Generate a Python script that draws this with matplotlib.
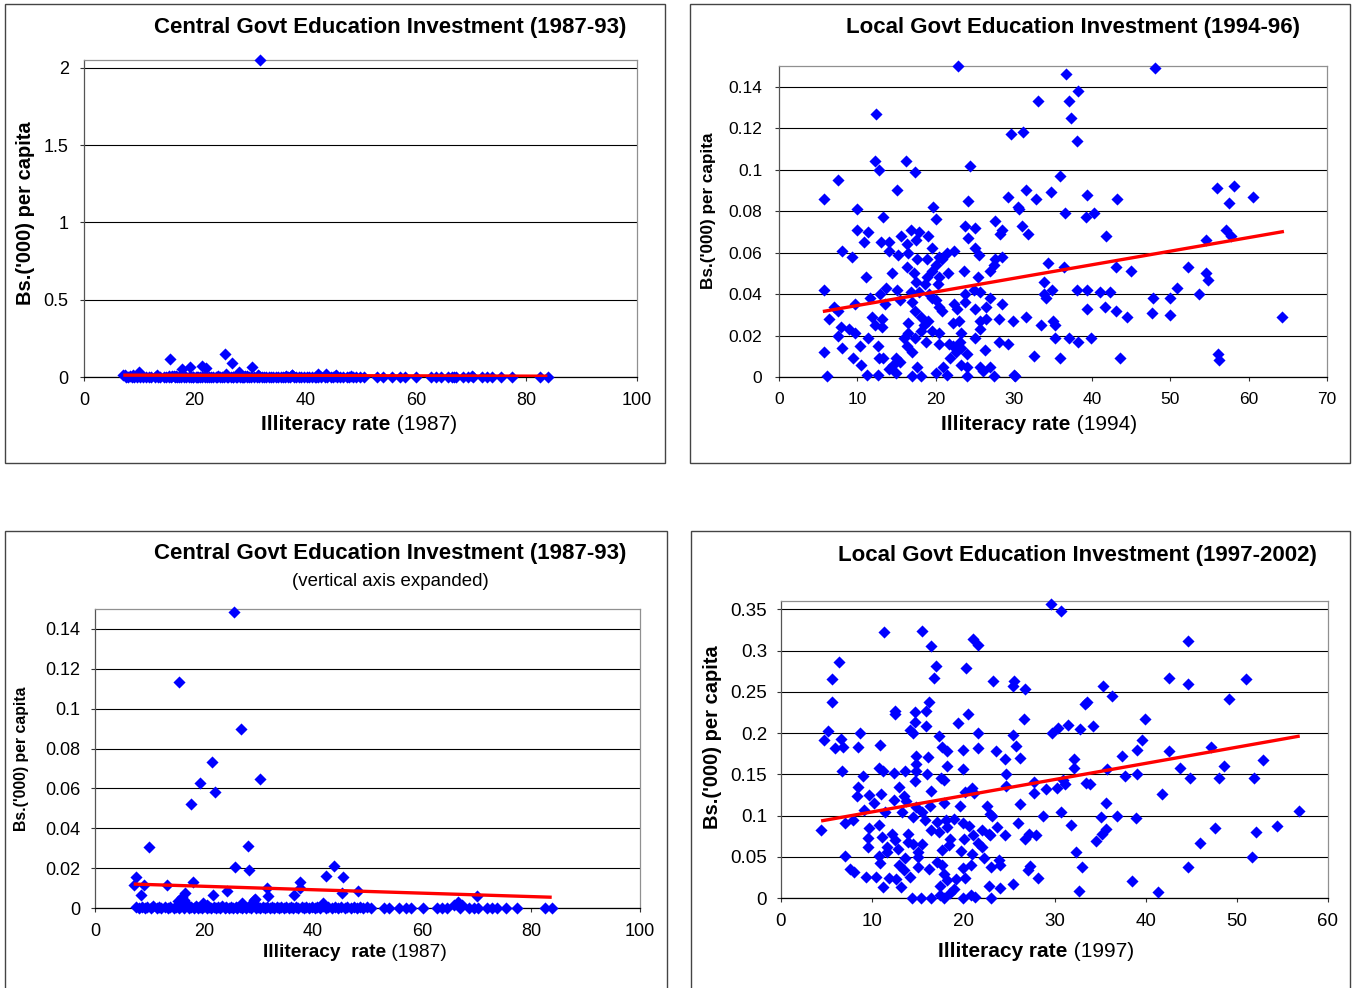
import matplotlib
matplotlib.use("Agg")
import matplotlib.pyplot as plt
from matplotlib.patches import Rectangle
from matplotlib.ticker import FuncFormatter
import numpy as np

plt.rcParams["font.family"] = ["Liberation Sans", "DejaVu Sans"]

W, H = 1357, 988

# ----------------------------
# Data
# ----------------------------

# central govt investment 1987-93 vs illiteracy 1987 (same points in both left panels)
central_1987 = [
    (31.9, 2.047), (25.5, 0.1485), (15.5, 0.1134), (26.7, 0.0900), (21.4, 0.0732),
    (19.2, 0.0625), (22.0, 0.0584), (17.7, 0.0523), (30.3, 0.0647), (9.9, 0.0306),
    (28.0, 0.0311), (25.7, 0.0206), (28.2, 0.0192), (43.8, 0.0212), (42.4, 0.0162),
    (45.5, 0.0155), (7.5, 0.0155), (7.1, 0.0115), (8.9, 0.0115), (8.4, 0.0067),
    (13.2, 0.0114), (17.9, 0.0130), (16.6, 0.0075), (16.0, 0.0053), (15.3, 0.0033),
    (21.7, 0.0065), (24.2, 0.0084), (31.5, 0.0100), (31.7, 0.0058), (29.2, 0.0042),
    (36.5, 0.0065), (37.7, 0.0132), (37.7, 0.0099), (45.3, 0.0075), (48.2, 0.0085),
    (70.1, 0.0062), (66.6, 0.0030), (41.8, 0.0025), (26.9, 0.0025), (19.8, 0.0025),
    (29.4, 0.0047), (16.3, 0.0040), (20.5, 0.0015), (28.7, 0.0020), (65.8, 0.0015),
    (67.3, 0.0015),
    (7.6, 0.0004), (8.0, 0.0), (8.7, 0.0006), (9.1, 0.0), (9.6, 0.0003),
    (10.2, 0.0), (10.6, 0.0008), (11.3, 0.0), (11.8, 0.0004), (12.2, 0.0),
    (12.9, 0.0006), (13.4, 0.0), (13.8, 0.0003), (14.5, 0.0), (14.9, 0.0007),
    (15.4, 0.0), (15.8, 0.0012), (16.4, 0.0), (16.8, 0.0020), (17.2, 0.0),
    (17.6, 0.0005), (18.1, 0.0), (18.5, 0.0009), (18.9, 0.0), (19.3, 0.0004),
    (19.7, 0.0), (20.2, 0.0010), (20.6, 0.0), (21.0, 0.0003), (21.3, 0.0),
    (21.8, 0.0006), (22.2, 0.0), (22.6, 0.0004), (23.0, 0.0), (23.3, 0.0008),
    (23.8, 0.0), (24.1, 0.0003), (24.6, 0.0), (25.0, 0.0006), (25.4, 0.0),
    (25.8, 0.0004), (26.1, 0.0), (26.6, 0.0007), (27.0, 0.0), (27.4, 0.0012),
    (27.7, 0.0), (28.2, 0.0005), (28.6, 0.0), (29.0, 0.0015), (29.5, 0.0),
    (29.9, 0.0004), (30.2, 0.0), (30.8, 0.0006), (31.2, 0.0), (31.6, 0.0003),
    (32.1, 0.0), (32.5, 0.0005), (32.9, 0.0), (33.4, 0.0004), (33.8, 0.0),
    (34.1, 0.0006), (34.7, 0.0), (35.0, 0.0003), (35.6, 0.0), (35.9, 0.0005),
    (36.4, 0.0), (36.9, 0.0004), (37.3, 0.0), (37.9, 0.0006), (38.3, 0.0),
    (38.8, 0.0003), (39.2, 0.0), (39.8, 0.0005), (40.3, 0.0), (40.7, 0.0004),
    (41.2, 0.0), (41.9, 0.0009), (42.3, 0.0), (42.8, 0.0004), (43.5, 0.0),
    (44.0, 0.0005), (44.6, 0.0), (45.1, 0.0004), (45.8, 0.0), (46.3, 0.0006),
    (46.9, 0.0), (47.5, 0.0003), (48.0, 0.0), (48.7, 0.0005), (49.2, 0.0),
    (49.9, 0.0004), (50.6, 0.0), (53.0, 0.0), (54.0, 0.0), (55.7, 0.0),
    (57.1, 0.0), (58.0, 0.0), (60.1, 0.0), (62.8, 0.0), (63.6, 0.0),
    (64.5, 0.0), (66.9, 0.0), (68.6, 0.0), (69.5, 0.0), (70.3, 0.0),
    (72.0, 0.0), (72.8, 0.0), (73.7, 0.0), (75.4, 0.0), (77.4, 0.0),
    (82.5, 0.0), (83.9, 0.0),
]
central_trend_x = [7.1, 83.8]
central_trend_y = [0.0120, 0.0054]

# local govt investment 1994-96 vs illiteracy 1994
local_1994 = [
    (22.9, 0.150), (48.0, 0.149), (36.6, 0.146), (38.2, 0.138), (33.1, 0.133),
    (37.1, 0.133), (37.3, 0.125), (12.4, 0.127), (29.6, 0.117), (31.2, 0.118),
    (38.1, 0.114), (12.2, 0.104), (16.2, 0.104), (12.8, 0.100), (17.4, 0.099),
    (24.4, 0.102), (7.5, 0.095), (35.9, 0.097), (5.7, 0.086), (15.1, 0.090),
    (29.3, 0.087), (31.6, 0.090), (32.8, 0.086), (34.7, 0.089), (39.3, 0.088),
    (43.2, 0.086), (55.9, 0.091), (58.1, 0.092), (60.5, 0.087), (57.5, 0.084),
    (24.1, 0.085), (9.9, 0.081), (19.7, 0.082), (30.5, 0.082), (30.6, 0.081),
    (36.5, 0.079), (40.2, 0.079), (39.2, 0.077), (13.3, 0.077), (20.0, 0.076),
    (9.9, 0.071), (11.4, 0.070), (23.8, 0.073), (25.0, 0.072), (27.6, 0.075),
    (28.5, 0.071), (28.2, 0.069), (31.1, 0.073), (31.8, 0.069), (41.8, 0.068),
    (57.1, 0.071), (57.7, 0.068), (54.5, 0.066), (15.6, 0.068), (16.8, 0.071),
    (17.9, 0.070), (19.0, 0.068), (17.5, 0.066), (24.1, 0.067), (10.9, 0.065),
    (13.0, 0.065), (14.1, 0.065), (16.3, 0.064), (8.0, 0.061), (9.3, 0.058),
    (14.0, 0.061), (15.2, 0.059), (16.5, 0.060), (19.5, 0.062), (20.4, 0.058),
    (21.5, 0.060), (22.4, 0.061), (25.0, 0.062), (25.6, 0.059), (28.5, 0.058),
    (27.6, 0.057), (17.6, 0.057), (18.9, 0.057), (16.3, 0.053), (20.1, 0.054),
    (20.8, 0.057), (27.4, 0.054), (27.0, 0.051), (34.3, 0.055), (36.4, 0.053),
    (43.0, 0.053), (52.2, 0.053), (45.0, 0.051), (14.4, 0.050), (17.3, 0.050),
    (19.5, 0.051), (21.6, 0.050), (23.6, 0.051), (11.1, 0.048), (18.9, 0.048),
    (20.5, 0.048), (25.4, 0.048), (17.5, 0.046), (18.7, 0.045), (20.3, 0.045),
    (33.9, 0.046), (54.5, 0.050), (54.8, 0.047), (5.8, 0.042), (13.7, 0.043),
    (15.1, 0.042), (16.9, 0.041), (17.9, 0.041), (19.2, 0.040), (24.9, 0.042),
    (25.7, 0.041), (34.9, 0.042), (38.1, 0.042), (39.3, 0.042), (41.0, 0.041),
    (42.3, 0.041), (50.8, 0.043), (11.6, 0.038), (12.9, 0.040), (15.4, 0.037),
    (19.5, 0.038), (20.1, 0.037), (23.8, 0.040), (27.0, 0.038), (33.9, 0.040),
    (34.1, 0.038), (53.6, 0.040), (50.0, 0.038), (47.8, 0.038), (7.0, 0.034),
    (9.7, 0.035), (13.6, 0.035), (17.0, 0.036), (20.5, 0.034), (22.4, 0.035),
    (23.7, 0.036), (7.6, 0.032), (17.4, 0.032), (20.8, 0.032), (22.8, 0.033),
    (25.1, 0.033), (26.5, 0.034), (28.5, 0.035), (39.4, 0.033), (41.6, 0.034),
    (43.0, 0.032), (47.7, 0.031), (49.9, 0.030), (64.3, 0.029), (44.5, 0.029),
    (6.4, 0.028), (11.9, 0.029), (13.2, 0.028), (18.1, 0.029), (19.0, 0.027),
    (26.5, 0.028), (28.1, 0.028), (29.9, 0.027), (31.5, 0.029), (12.3, 0.025),
    (13.1, 0.024), (16.5, 0.026), (18.5, 0.025), (22.2, 0.026), (23.0, 0.027),
    (25.7, 0.027), (33.5, 0.025), (35.0, 0.027), (35.2, 0.025), (7.9, 0.024),
    (9.0, 0.023), (9.7, 0.021), (7.6, 0.020), (16.5, 0.021), (18.2, 0.022),
    (19.5, 0.022), (20.4, 0.021), (23.2, 0.021), (25.7, 0.023), (11.4, 0.019),
    (16.0, 0.019), (17.4, 0.019), (18.8, 0.017), (25.1, 0.019), (35.2, 0.019),
    (37.1, 0.019), (39.9, 0.019), (23.1, 0.017), (20.5, 0.016), (28.1, 0.017),
    (29.2, 0.016), (38.2, 0.017), (10.3, 0.015), (12.6, 0.015), (16.3, 0.015),
    (22.2, 0.015), (23.2, 0.014), (8.1, 0.014), (17.0, 0.012), (22.6, 0.012),
    (24.0, 0.011), (26.3, 0.013), (5.8, 0.012), (9.5, 0.009), (12.8, 0.009),
    (13.3, 0.009), (14.9, 0.009), (32.6, 0.010), (35.9, 0.009), (43.6, 0.009),
    (56.1, 0.011), (56.2, 0.008), (10.5, 0.006), (14.5, 0.006), (15.4, 0.007),
    (17.6, 0.005), (21.8, 0.009), (21.0, 0.005), (23.3, 0.006), (24.0, 0.005),
    (25.7, 0.005), (26.9, 0.005), (14.0, 0.004), (14.9, 0.002), (11.2, 0.001),
    (12.7, 0.001), (6.1, 0.0005), (17.0, 0.0005), (18.1, 0.0005), (20.1, 0.002),
    (21.4, 0.001), (24.0, 0.0005), (26.0, 0.003), (27.4, 0.0005), (30.0, 0.001),
    (30.2, 0.0005), (21.7, 0.016),
]
local_1994_trend_x = [5.6, 64.5]
local_1994_trend_y = [0.0316, 0.0702]

# local govt investment 1997-2002 vs illiteracy 1997
local_1997 = [
    (29.6, 0.356), (30.7, 0.348), (11.3, 0.322), (15.5, 0.324), (21.1, 0.314),
    (21.6, 0.307), (44.6, 0.312), (16.4, 0.306), (6.4, 0.286), (17.0, 0.281),
    (20.3, 0.279), (5.6, 0.265), (16.8, 0.267), (23.3, 0.263), (25.6, 0.263),
    (25.4, 0.257), (26.8, 0.253), (35.3, 0.257), (36.3, 0.245), (42.6, 0.267),
    (44.6, 0.259), (51.0, 0.266), (49.1, 0.241), (5.6, 0.238), (16.2, 0.237),
    (12.5, 0.227), (12.5, 0.223), (14.7, 0.226), (15.9, 0.227), (20.5, 0.223),
    (33.3, 0.235), (33.6, 0.237), (26.6, 0.217), (39.9, 0.217), (5.2, 0.202),
    (4.7, 0.192), (6.6, 0.193), (5.9, 0.182), (6.8, 0.183), (8.5, 0.183),
    (8.7, 0.200), (6.7, 0.154), (14.7, 0.213), (14.2, 0.204), (14.5, 0.200),
    (15.9, 0.208), (17.3, 0.196), (19.4, 0.212), (21.6, 0.200), (25.4, 0.197),
    (29.7, 0.200), (30.4, 0.206), (31.5, 0.210), (32.8, 0.205), (34.2, 0.209),
    (39.6, 0.191), (39.1, 0.180), (42.6, 0.178), (47.2, 0.183), (10.9, 0.186),
    (17.7, 0.183), (18.2, 0.178), (20.0, 0.179), (21.6, 0.182), (23.6, 0.178),
    (25.8, 0.184), (24.6, 0.168), (14.8, 0.172), (16.1, 0.171), (14.8, 0.162),
    (18.2, 0.160), (26.2, 0.170), (32.1, 0.168), (32.1, 0.157), (37.4, 0.172),
    (43.8, 0.157), (48.6, 0.160), (52.9, 0.167), (10.7, 0.157), (11.2, 0.154),
    (12.4, 0.151), (9.0, 0.148), (13.6, 0.154), (14.8, 0.154), (16.0, 0.150),
    (17.6, 0.146), (17.9, 0.143), (20.0, 0.156), (24.7, 0.150), (35.8, 0.156),
    (39.1, 0.150), (37.7, 0.148), (44.9, 0.146), (48.0, 0.145), (51.9, 0.146),
    (14.7, 0.142), (8.4, 0.135), (8.3, 0.124), (9.6, 0.125), (11.0, 0.126),
    (12.4, 0.119), (12.9, 0.134), (13.5, 0.124), (16.5, 0.130), (20.2, 0.129),
    (20.9, 0.133), (21.2, 0.127), (24.7, 0.136), (27.8, 0.141), (27.8, 0.127),
    (29.1, 0.132), (30.3, 0.133), (30.9, 0.143), (31.2, 0.138), (33.5, 0.139),
    (33.9, 0.138), (41.8, 0.126), (35.7, 0.115), (26.2, 0.114), (10.2, 0.115),
    (11.4, 0.104), (13.7, 0.117), (14.8, 0.110), (15.5, 0.104), (16.3, 0.112),
    (17.9, 0.115), (19.6, 0.112), (22.6, 0.111), (22.9, 0.102), (23.1, 0.099),
    (28.7, 0.100), (30.7, 0.104), (35.1, 0.098), (36.9, 0.099), (38.9, 0.097),
    (56.8, 0.105), (9.1, 0.107), (7.0, 0.091), (7.9, 0.094), (9.6, 0.085),
    (10.7, 0.089), (13.3, 0.104), (14.5, 0.098), (15.8, 0.094), (17.1, 0.092),
    (18.1, 0.094), (19.0, 0.096), (20.0, 0.091), (16.4, 0.082), (17.3, 0.080),
    (18.2, 0.086), (20.6, 0.087), (22.1, 0.082), (23.7, 0.086), (26.0, 0.091),
    (31.8, 0.089), (47.6, 0.085), (52.1, 0.080), (54.4, 0.087), (4.4, 0.082),
    (9.5, 0.073), (11.1, 0.074), (12.2, 0.078), (12.5, 0.070), (13.9, 0.078),
    (13.9, 0.068), (15.5, 0.066), (18.5, 0.071), (20.1, 0.072), (21.1, 0.076),
    (21.6, 0.067), (22.8, 0.077), (24.6, 0.076), (22.9, 0.076), (26.8, 0.071),
    (27.2, 0.077), (28.0, 0.076), (35.2, 0.078), (35.6, 0.084), (34.6, 0.069),
    (46.0, 0.067), (9.5, 0.062), (11.6, 0.062), (12.8, 0.059), (14.5, 0.066),
    (15.0, 0.056), (17.7, 0.058), (18.4, 0.064), (19.7, 0.057), (22.1, 0.062),
    (22.3, 0.048), (32.4, 0.056), (51.7, 0.050), (7.0, 0.051), (10.7, 0.051),
    (11.6, 0.056), (13.6, 0.049), (15.0, 0.050), (17.1, 0.044), (20.9, 0.053),
    (23.9, 0.046), (10.9, 0.042), (12.9, 0.040), (13.5, 0.034), (15.0, 0.038),
    (16.2, 0.035), (17.7, 0.040), (20.0, 0.036), (20.8, 0.040), (23.0, 0.037),
    (24.0, 0.040), (27.3, 0.039), (27.1, 0.034), (33.0, 0.037), (44.6, 0.037),
    (7.6, 0.035), (8.0, 0.032), (9.3, 0.026), (10.4, 0.026), (11.8, 0.024),
    (12.6, 0.023), (14.1, 0.025), (17.9, 0.029), (19.2, 0.023), (20.2, 0.024),
    (18.2, 0.022), (28.2, 0.024), (38.5, 0.021), (11.2, 0.013), (13.2, 0.013),
    (17.4, 0.015), (19.0, 0.011), (22.8, 0.015), (24.0, 0.012), (25.4, 0.017),
    (18.5, 0.006), (32.7, 0.008), (41.4, 0.007), (14.4, 0.000), (15.4, 0.000),
    (16.5, 0.000), (17.9, 0.000), (20.0, 0.000), (20.8, 0.004), (21.3, 0.001),
    (23.0, 0.000), (17.4, 0.004),
]
local_1997_trend_x = [4.4, 56.9]
local_1997_trend_y = [0.0934, 0.1963]

central_xticks = [0, 20, 40, 60, 80, 100]
central_yticks_full = [0, 0.5, 1, 1.5, 2]
small_yticks = [0, 0.02, 0.04, 0.06, 0.08, 0.10, 0.12, 0.14]
local_1994_xticks = [0, 10, 20, 30, 40, 50, 60, 70]
local_1997_xticks = [0, 10, 20, 30, 40, 50, 60]
local_1997_yticks = [0, 0.05, 0.10, 0.15, 0.20, 0.25, 0.30, 0.35]

# ----------------------------
# Figure
# ----------------------------

fig = plt.figure(figsize=(W / 100, H / 100), dpi=100)
fig.patch.set_facecolor("white")


def fig_xy(x, y):
    return x / W, 1 - y / H


def fmt(v, pos):
    return f"{round(v, 4):g}"


def panel(box, points, tx, ty, xlim, xticks, ylim, yticks, tick_size, ypad):
    left, top, right, bottom = box
    ax = fig.add_axes([left / W, 1 - bottom / H, (right - left) / W, (bottom - top) / H])
    ax.set_xlim(*xlim)
    ax.set_ylim(*ylim)
    ax.set_xticks(xticks)
    ax.set_yticks(yticks)
    ax.xaxis.set_major_formatter(FuncFormatter(fmt))
    ax.yaxis.set_major_formatter(FuncFormatter(fmt))
    ax.grid(axis="y", color="black", linewidth=0.8)
    ax.set_axisbelow(True)
    ax.spines["top"].set_color("#909090")
    ax.spines["right"].set_color("#909090")
    ax.spines["left"].set_color("#555555")
    ax.spines["bottom"].set_color("black")
    for s in ax.spines.values():
        s.set_linewidth(0.9)
    ax.tick_params(axis="x", direction="out", length=3, width=0.8, color="#333333",
                   labelsize=tick_size, pad=8)
    ax.tick_params(axis="y", direction="out", length=3, width=0.8, color="#333333",
                   labelsize=tick_size, pad=ypad)

    xs = np.array([p[0] for p in points])
    ys = np.array([p[1] for p in points])
    keep = ys <= ylim[1]
    ax.scatter(xs[keep], ys[keep], marker="D", s=38, color="#0000FF",
               linewidths=0, zorder=3, clip_on=False)
    ax.plot(tx, ty, color="#FF0000", linewidth=2.4, zorder=4, solid_capstyle="butt")
    return ax


def mixed_label(cx, cy, bold, normal, size):
    t1 = fig.text(0, 0, bold, fontsize=size, fontweight="bold", ha="left", va="center")
    t2 = fig.text(0, 0, normal, fontsize=size, ha="left", va="center")
    r = fig.canvas.get_renderer()
    w1 = t1.get_window_extent(r).width
    w2 = t2.get_window_extent(r).width
    left = cx - (w1 + w2) / 2
    t1.set_position(fig_xy(left, cy))
    t2.set_position(fig_xy(left + w1, cy))


def ylabel(cx, cy, size):
    fig.text(*fig_xy(cx, cy), "Bs.('000) per capita", rotation=90, fontsize=size,
             fontweight="bold", ha="center", va="center")


def title(cx, cy, s, size=16, weight="bold"):
    fig.text(*fig_xy(cx, cy), s, fontsize=size, fontweight=weight, ha="center", va="center")


# panel outer boxes
for (l, t, r, b) in [(5, 4, 665, 463), (690, 4, 1350, 463),
                     (5, 531, 667, 1010), (691, 531, 1350, 1010)]:
    x0, y0 = fig_xy(l, b)
    fig.patches.append(Rectangle((x0, y0), (r - l) / W, (b - t) / H,
                                 transform=fig.transFigure, fill=False,
                                 edgecolor="#444444", linewidth=1.0))

# top left: central govt, full axis
panel((84, 60, 637, 377), central_1987, central_trend_x, central_trend_y,
      (0, 100), central_xticks, (0, 2.05), central_yticks_full, 13, 8)
title(390, 27, "Central Govt Education Investment (1987-93)")
mixed_label(359, 425, "Illiteracy rate", " (1987)", 15)
ylabel(26, 213, 14.5)

# top right: local govt 1994-96
panel((779, 66, 1327, 377), local_1994, local_1994_trend_x, local_1994_trend_y,
      (0, 70), local_1994_xticks, (0, 0.15), small_yticks, 12.5, 9)
title(1073, 27, "Local Govt Education Investment (1994-96)")
mixed_label(1039, 425, "Illiteracy rate", " (1994)", 15)
ylabel(709, 211, 12.3)

# bottom left: central govt, vertical axis expanded
panel((95, 609, 640, 908), central_1987, central_trend_x, central_trend_y,
      (0, 100), central_xticks, (0, 0.15), small_yticks, 13, 7.5)
title(390, 553, "Central Govt Education Investment (1987-93)")
title(390, 581, "(vertical axis expanded)", size=13.4, weight="normal")
mixed_label(355, 952, "Illiteracy  rate", " (1987)", 13.8)
ylabel(22, 759, 11.4)

# bottom right: local govt 1997-2002
panel((781, 601, 1328, 898), local_1997, local_1997_trend_x, local_1997_trend_y,
      (0, 60), local_1997_xticks, (0, 0.36), local_1997_yticks, 13.5, 7)
title(1077, 555, "Local Govt Education Investment (1997-2002)")
mixed_label(1036, 951, "Illiteracy rate", " (1997)", 15)
ylabel(712, 737, 14.5)

fig.savefig("out.png", dpi=100, facecolor="white")
